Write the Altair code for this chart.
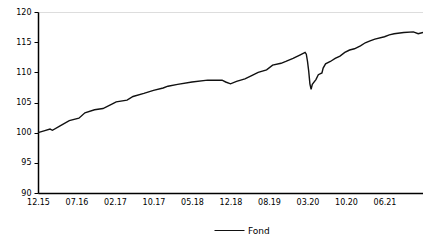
import altair as alt
import pandas as pd

weeks = [0, 5, 10, 12, 18, 26, 34, 39, 47, 54, 61, 65, 74, 79, 88, 96, 104, 108, 116, 128,
         141, 153, 156, 160, 165, 172, 178, 183, 190, 195, 202, 206, 212, 218, 222, 223,
         224, 225, 226, 227, 228, 231, 233, 236, 237, 239, 243, 247, 251, 255, 259, 263,
         268, 272, 276, 280, 288, 292, 296, 304, 312, 316, 320]
values = [100.0, 100.3, 100.6, 100.4, 101.1, 102.0, 102.4, 103.3, 103.8, 104.0, 104.7, 105.1,
          105.4, 106.0, 106.5, 107.0, 107.4, 107.7, 108.0, 108.4, 108.7, 108.7, 108.4, 108.1,
          108.5, 108.9, 109.5, 110.0, 110.4, 111.2, 111.5, 111.8, 112.3, 112.9, 113.3, 113.0,
          111.8, 110.2, 108.1, 107.2, 108.0, 108.8, 109.6, 109.9, 110.7, 111.4, 111.8, 112.3,
          112.7, 113.3, 113.7, 113.9, 114.4, 114.9, 115.2, 115.5, 115.9, 116.2, 116.4, 116.6,
          116.7, 116.4, 116.6]
tick_labels = ["12.15", "07.16", "02.17", "10.17", "05.18", "12.18", "08.19", "03.20", "10.20", "06.21"]
tick_weeks = [i * 32 for i in range(len(tick_labels))]
series = "Fond"

df = pd.DataFrame({"week": weeks, "value": values, "series": series})

label_expr = "[" + ",".join(f"'{l}'" for l in tick_labels) + "][round(datum.value/32)]"

chart = alt.Chart(df).mark_line(strokeWidth=1.4).encode(
    x=alt.X("week:Q", scale=alt.Scale(domain=[0, 320], nice=False, zero=False),
            axis=alt.Axis(values=tick_weeks, labelExpr=label_expr, title=None, grid=False,
                          ticks=False, domainColor="black", domainWidth=1.5,
                          labelFont="DejaVu Sans", labelFontSize=8, labelColor="black",
                          labelPadding=5, labelFlush=False)),
    y=alt.Y("value:Q", scale=alt.Scale(domain=[90, 120], nice=False, zero=False),
            axis=alt.Axis(values=[90, 95, 100, 105, 110, 115, 120], title=None, grid=False,
                          tickSize=4, tickColor="black", domainColor="black", domainWidth=1.5,
                          labelFont="DejaVu Sans", labelFontSize=8, labelColor="black",
                          labelPadding=3)),
    color=alt.Color("series:N", scale=alt.Scale(range=["#111111"]),
                    legend=alt.Legend(title=None, orient="none", legendX=176, legendY=203,
                                      symbolType="stroke", symbolSize=900, symbolStrokeWidth=1,
                                      labelOffset=3,
                                      labelFont="DejaVu Sans", labelFontSize=9,
                                      labelColor="black")),
).properties(
    width=385, height=181,
    autosize=alt.AutoSizeParams(type="none"),
    padding={"left": 30, "top": 4, "right": 0, "bottom": 42},
).configure_view(stroke="#999999", strokeWidth=1).configure(background="white")

chart.save("out.html", embed_options={"renderer": "svg", "actions": False})
